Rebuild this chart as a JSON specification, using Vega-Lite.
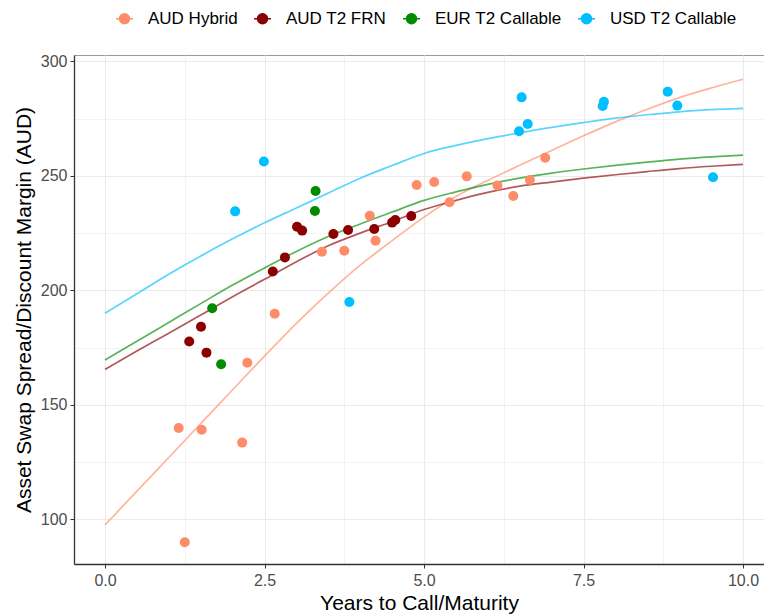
{
  "$schema": "https://vega.github.io/schema/vega-lite/v6.json",
  "width": 690,
  "height": 509,
  "autosize": {"type": "none"},
  "padding": {"left": 74, "top": 55, "right": 0, "bottom": 52},
  "background": "white",
  "config": {
    "font": "Liberation Sans",
    "view": {"stroke": "#9a9a9a", "strokeWidth": 1},
    "axis": {
      "gridColor": "#EBEBEB",
      "tickColor": "#333333",
      "tickSize": 4,
      "domainColor": "#333333",
      "domainWidth": 1.3,
      "labelFont": "Liberation Sans",
      "labelFontSize": 16,
      "labelColor": "#4D4D4D",
      "titleFont": "Liberation Sans",
      "titleFontSize": 21,
      "titleFontWeight": "normal",
      "titleColor": "#000000"
    },
    "legend": {
      "orient": "none",
      "direction": "horizontal",
      "legendX": 42,
      "legendY": -45,
      "labelFont": "Liberation Sans",
      "labelFontSize": 17,
      "labelColor": "#000000",
      "symbolType": "M-1.7,0L1.7,0M-1,0A1,1,0,1,0,1,0A1,1,0,1,0,-1,0Z",
      "symbolSize": 100,
      "symbolStrokeWidth": 1.5,
      "labelOffset": 15,
      "columnPadding": 13
    }
  },
  "datasets": {
    "pts": [
      {"series": "AUD Hybrid", "years": 1.155, "spread": 139.9},
      {"series": "AUD Hybrid", "years": 1.515, "spread": 139.1},
      {"series": "AUD Hybrid", "years": 2.15, "spread": 133.5},
      {"series": "AUD Hybrid", "years": 1.25, "spread": 90.0},
      {"series": "AUD Hybrid", "years": 2.23, "spread": 168.4},
      {"series": "AUD Hybrid", "years": 2.66, "spread": 189.8},
      {"series": "AUD Hybrid", "years": 3.40, "spread": 216.9},
      {"series": "AUD Hybrid", "years": 3.75, "spread": 217.3},
      {"series": "AUD Hybrid", "years": 4.15, "spread": 232.6},
      {"series": "AUD Hybrid", "years": 4.24, "spread": 221.7},
      {"series": "AUD Hybrid", "years": 4.885, "spread": 246.0},
      {"series": "AUD Hybrid", "years": 5.16, "spread": 247.3},
      {"series": "AUD Hybrid", "years": 5.40, "spread": 238.5},
      {"series": "AUD Hybrid", "years": 5.67, "spread": 249.8},
      {"series": "AUD Hybrid", "years": 6.15, "spread": 245.8},
      {"series": "AUD Hybrid", "years": 6.40, "spread": 241.2},
      {"series": "AUD Hybrid", "years": 6.66, "spread": 248.2},
      {"series": "AUD Hybrid", "years": 6.90, "spread": 257.9},
      {"series": "AUD T2 FRN", "years": 1.32, "spread": 177.7},
      {"series": "AUD T2 FRN", "years": 1.505, "spread": 184.1},
      {"series": "AUD T2 FRN", "years": 1.59, "spread": 172.8},
      {"series": "AUD T2 FRN", "years": 2.63, "spread": 208.2},
      {"series": "AUD T2 FRN", "years": 2.82, "spread": 214.4},
      {"series": "AUD T2 FRN", "years": 3.01, "spread": 227.8},
      {"series": "AUD T2 FRN", "years": 3.09, "spread": 226.1},
      {"series": "AUD T2 FRN", "years": 3.58, "spread": 224.6},
      {"series": "AUD T2 FRN", "years": 3.81, "spread": 226.4},
      {"series": "AUD T2 FRN", "years": 4.22, "spread": 226.8},
      {"series": "AUD T2 FRN", "years": 4.50, "spread": 229.6},
      {"series": "AUD T2 FRN", "years": 4.55, "spread": 230.7},
      {"series": "AUD T2 FRN", "years": 4.80, "spread": 232.5},
      {"series": "EUR T2 Callable", "years": 1.68, "spread": 192.2},
      {"series": "EUR T2 Callable", "years": 1.82, "spread": 167.7},
      {"series": "EUR T2 Callable", "years": 3.30, "spread": 243.4},
      {"series": "EUR T2 Callable", "years": 3.29, "spread": 234.7},
      {"series": "USD T2 Callable", "years": 2.04, "spread": 234.5},
      {"series": "USD T2 Callable", "years": 2.49, "spread": 256.3},
      {"series": "USD T2 Callable", "years": 3.83, "spread": 194.9},
      {"series": "USD T2 Callable", "years": 6.49, "spread": 269.5},
      {"series": "USD T2 Callable", "years": 6.53, "spread": 284.3},
      {"series": "USD T2 Callable", "years": 6.625, "spread": 272.7},
      {"series": "USD T2 Callable", "years": 7.80, "spread": 280.5},
      {"series": "USD T2 Callable", "years": 7.82, "spread": 282.4},
      {"series": "USD T2 Callable", "years": 8.82, "spread": 286.8},
      {"series": "USD T2 Callable", "years": 8.97, "spread": 280.7},
      {"series": "USD T2 Callable", "years": 9.53, "spread": 249.4}
    ],
    "fits": [
      {"series": "AUD Hybrid", "years": 0, "spread": 97.5},
      {"series": "AUD Hybrid", "years": 0.5, "spread": 112.3},
      {"series": "AUD Hybrid", "years": 1, "spread": 127.0},
      {"series": "AUD Hybrid", "years": 1.5, "spread": 141.8},
      {"series": "AUD Hybrid", "years": 2, "spread": 156.6},
      {"series": "AUD Hybrid", "years": 2.5, "spread": 171.3},
      {"series": "AUD Hybrid", "years": 3, "spread": 185.6},
      {"series": "AUD Hybrid", "years": 3.5, "spread": 198.8},
      {"series": "AUD Hybrid", "years": 4, "spread": 211.0},
      {"series": "AUD Hybrid", "years": 4.5, "spread": 221.7},
      {"series": "AUD Hybrid", "years": 5, "spread": 232.0},
      {"series": "AUD Hybrid", "years": 5.5, "spread": 241.0},
      {"series": "AUD Hybrid", "years": 6, "spread": 248.0},
      {"series": "AUD Hybrid", "years": 6.5, "spread": 254.6},
      {"series": "AUD Hybrid", "years": 7, "spread": 261.1},
      {"series": "AUD Hybrid", "years": 7.5, "spread": 267.5},
      {"series": "AUD Hybrid", "years": 8, "spread": 273.6},
      {"series": "AUD Hybrid", "years": 8.5, "spread": 279.1},
      {"series": "AUD Hybrid", "years": 9, "spread": 284.2},
      {"series": "AUD Hybrid", "years": 9.5, "spread": 288.4},
      {"series": "AUD Hybrid", "years": 10, "spread": 292.2},
      {"series": "AUD T2 FRN", "years": 0, "spread": 165.5},
      {"series": "AUD T2 FRN", "years": 0.5, "spread": 173.5},
      {"series": "AUD T2 FRN", "years": 1, "spread": 181.3},
      {"series": "AUD T2 FRN", "years": 1.5, "spread": 189.2},
      {"series": "AUD T2 FRN", "years": 2, "spread": 197.2},
      {"series": "AUD T2 FRN", "years": 2.5, "spread": 204.8},
      {"series": "AUD T2 FRN", "years": 3, "spread": 212.5},
      {"series": "AUD T2 FRN", "years": 3.5, "spread": 219.5},
      {"series": "AUD T2 FRN", "years": 4, "spread": 225.0},
      {"series": "AUD T2 FRN", "years": 4.5, "spread": 230.0},
      {"series": "AUD T2 FRN", "years": 5, "spread": 235.3},
      {"series": "AUD T2 FRN", "years": 5.5, "spread": 239.3},
      {"series": "AUD T2 FRN", "years": 6, "spread": 242.8},
      {"series": "AUD T2 FRN", "years": 6.5, "spread": 245.5},
      {"series": "AUD T2 FRN", "years": 7, "spread": 247.3},
      {"series": "AUD T2 FRN", "years": 7.5, "spread": 249.0},
      {"series": "AUD T2 FRN", "years": 8, "spread": 250.5},
      {"series": "AUD T2 FRN", "years": 8.5, "spread": 251.9},
      {"series": "AUD T2 FRN", "years": 9, "spread": 253.2},
      {"series": "AUD T2 FRN", "years": 9.5, "spread": 254.2},
      {"series": "AUD T2 FRN", "years": 10, "spread": 255.0},
      {"series": "EUR T2 Callable", "years": 0, "spread": 169.6},
      {"series": "EUR T2 Callable", "years": 0.5, "spread": 177.8},
      {"series": "EUR T2 Callable", "years": 1, "spread": 186.0},
      {"series": "EUR T2 Callable", "years": 1.5, "spread": 194.2},
      {"series": "EUR T2 Callable", "years": 2, "spread": 202.3},
      {"series": "EUR T2 Callable", "years": 2.5, "spread": 209.8},
      {"series": "EUR T2 Callable", "years": 3, "spread": 217.0},
      {"series": "EUR T2 Callable", "years": 3.5, "spread": 223.5},
      {"series": "EUR T2 Callable", "years": 4, "spread": 229.0},
      {"series": "EUR T2 Callable", "years": 4.5, "spread": 234.2},
      {"series": "EUR T2 Callable", "years": 5, "spread": 239.3},
      {"series": "EUR T2 Callable", "years": 5.5, "spread": 243.0},
      {"series": "EUR T2 Callable", "years": 6, "spread": 246.3},
      {"series": "EUR T2 Callable", "years": 6.5, "spread": 249.0},
      {"series": "EUR T2 Callable", "years": 7, "spread": 251.2},
      {"series": "EUR T2 Callable", "years": 7.5, "spread": 253.0},
      {"series": "EUR T2 Callable", "years": 8, "spread": 254.6},
      {"series": "EUR T2 Callable", "years": 8.5, "spread": 256.0},
      {"series": "EUR T2 Callable", "years": 9, "spread": 257.3},
      {"series": "EUR T2 Callable", "years": 9.5, "spread": 258.3},
      {"series": "EUR T2 Callable", "years": 10, "spread": 259.1},
      {"series": "USD T2 Callable", "years": 0, "spread": 190.0},
      {"series": "USD T2 Callable", "years": 0.5, "spread": 198.5},
      {"series": "USD T2 Callable", "years": 1, "spread": 207.0},
      {"series": "USD T2 Callable", "years": 1.5, "spread": 215.0},
      {"series": "USD T2 Callable", "years": 2, "spread": 222.5},
      {"series": "USD T2 Callable", "years": 2.5, "spread": 229.5},
      {"series": "USD T2 Callable", "years": 3, "spread": 236.0},
      {"series": "USD T2 Callable", "years": 3.5, "spread": 242.5},
      {"series": "USD T2 Callable", "years": 4, "spread": 249.0},
      {"series": "USD T2 Callable", "years": 4.5, "spread": 254.5},
      {"series": "USD T2 Callable", "years": 5, "spread": 259.8},
      {"series": "USD T2 Callable", "years": 5.5, "spread": 263.3},
      {"series": "USD T2 Callable", "years": 6, "spread": 266.3},
      {"series": "USD T2 Callable", "years": 6.5, "spread": 268.8},
      {"series": "USD T2 Callable", "years": 7, "spread": 271.2},
      {"series": "USD T2 Callable", "years": 7.5, "spread": 273.3},
      {"series": "USD T2 Callable", "years": 8, "spread": 275.2},
      {"series": "USD T2 Callable", "years": 8.5, "spread": 276.7},
      {"series": "USD T2 Callable", "years": 9, "spread": 278.0},
      {"series": "USD T2 Callable", "years": 9.5, "spread": 278.9},
      {"series": "USD T2 Callable", "years": 10, "spread": 279.5}
    ]
  },
  "layer": [
    {
      "data": {"name": "fits"},
      "mark": {"type": "line", "strokeWidth": 1.7, "strokeOpacity": 0.65, "interpolate": "monotone"},
      "encoding": {
        "x": {"field": "years", "type": "quantitative"},
        "y": {"field": "spread", "type": "quantitative"},
        "stroke": {
          "field": "series",
          "type": "nominal",
          "scale": {
            "domain": ["AUD Hybrid", "AUD T2 FRN", "EUR T2 Callable", "USD T2 Callable"],
            "range": ["#FF8C69", "#8B0000", "#008B00", "#00BFFF"]
          },
          "legend": {"title": null}
        }
      }
    },
    {
      "data": {"name": "pts"},
      "mark": {"type": "circle", "size": 100, "opacity": 1},
      "encoding": {
        "x": {
          "field": "years",
          "type": "quantitative",
          "scale": {"domain": [-0.486, 10.329], "nice": false, "zero": false},
          "axis": {
            "title": "Years to Call/Maturity",
            "values": [0, 1.25, 2.5, 3.75, 5, 6.25, 7.5, 8.75, 10],
            "format": ".1f",
            "labelExpr": "datum.value % 2.5 === 0 ? datum.label : ''",
            "gridWidth": {"condition": {"test": "datum.value % 2.5 === 0", "value": 1.1}, "value": 0.6},
            "tickOpacity": {"condition": {"test": "datum.value % 2.5 === 0", "value": 1}, "value": 0},
            "labelPadding": 4,
            "titlePadding": 4
          }
        },
        "y": {
          "field": "spread",
          "type": "quantitative",
          "scale": {"domain": [80.48, 302.8], "nice": false, "zero": false},
          "axis": {
            "title": "Asset Swap Spread/Discount Margin (AUD)",
            "values": [100, 125, 150, 175, 200, 225, 250, 275, 300],
            "format": ".0f",
            "labelExpr": "datum.value % 50 === 0 ? datum.label : ''",
            "gridWidth": {"condition": {"test": "datum.value % 50 === 0", "value": 1.1}, "value": 0.6},
            "tickOpacity": {"condition": {"test": "datum.value % 50 === 0", "value": 1}, "value": 0},
            "labelPadding": 3,
            "titlePadding": 6
          }
        },
        "color": {
          "field": "series",
          "type": "nominal",
          "scale": {
            "domain": ["AUD Hybrid", "AUD T2 FRN", "EUR T2 Callable", "USD T2 Callable"],
            "range": ["#FF8C69", "#8B0000", "#008B00", "#00BFFF"]
          },
          "legend": {"title": null}
        }
      }
    }
  ]
}
